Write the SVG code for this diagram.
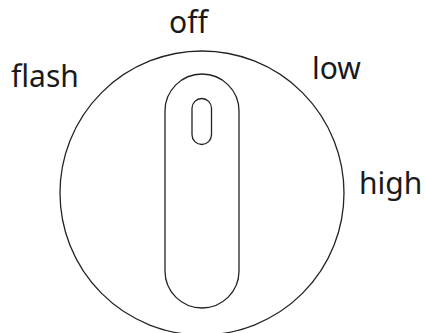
<svg xmlns="http://www.w3.org/2000/svg" width="425" height="333" viewBox="0 0 425 333">
<style>
.s{fill:none;stroke:#222;stroke-width:1.3}
.t{font-family:"Noto Sans",sans-serif;font-size:30px;fill:#1a1a1a}
</style>
<rect width="425" height="333" fill="#fff"/>
<g id="dial"><circle class="s" cx="202" cy="193" r="142"/></g>
<g id="knob"><rect class="s" x="165" y="74" width="74" height="234" rx="37"/></g>
<g id="indicator"><rect class="s" x="192" y="98.5" width="19.5" height="46" rx="9.75"/></g>
<g id="labels">
<text class="t" x="188.5" y="33" text-anchor="middle">off</text>
<text class="t" x="11" y="87">flash</text>
<text class="t" x="312" y="79">low</text>
<text class="t" x="359" y="194">high</text>
</g>
</svg>
